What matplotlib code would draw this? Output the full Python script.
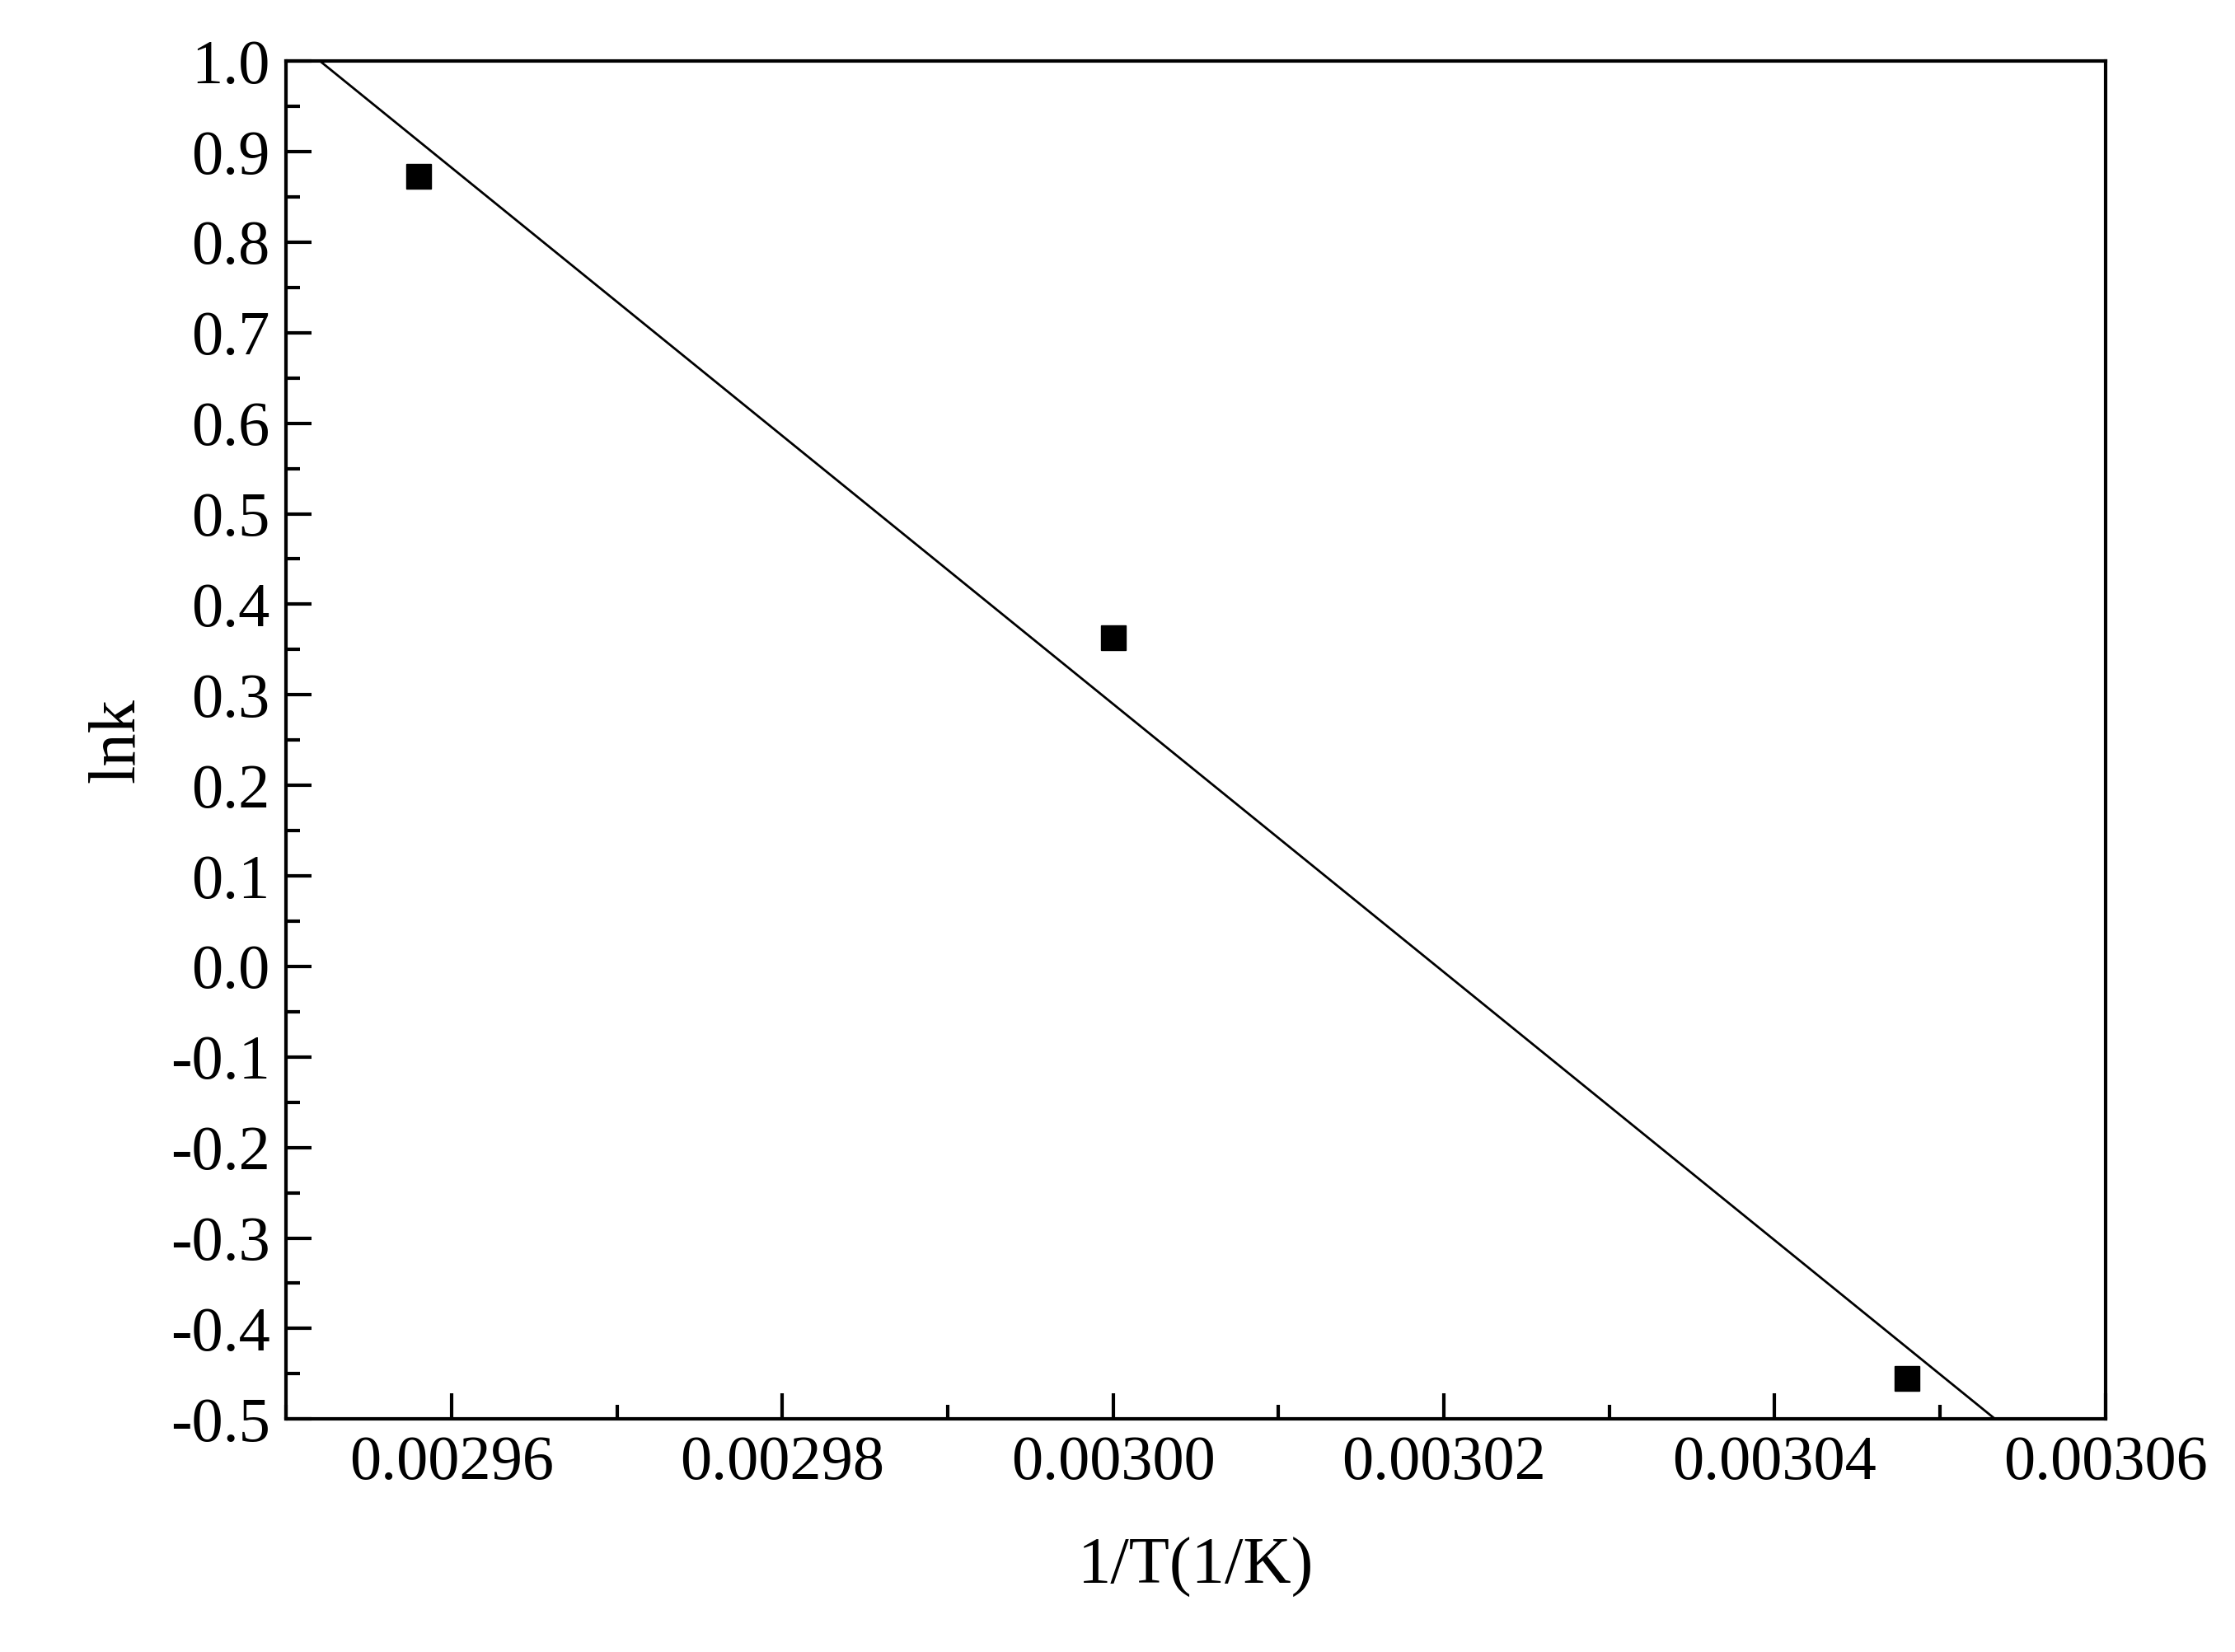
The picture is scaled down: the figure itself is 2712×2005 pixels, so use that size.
import numpy as np
import matplotlib
matplotlib.use("Agg")
import matplotlib.pyplot as plt
from matplotlib.ticker import MultipleLocator, FormatStrFormatter

inv_T = [0.002958, 0.003000, 0.003048]
lnk = [0.873, 0.363, -0.455]

plt.rcParams['font.family'] = ['Liberation Serif', 'DejaVu Serif']
fig = plt.figure(figsize=(27.12, 20.05), dpi=100)
ax = fig.add_axes([0.128, 0.141, 0.814, 0.822])

slope, icpt = np.polyfit(inv_T, lnk, 1)
xl = np.linspace(0.00295, 0.00306, 200)
ax.plot(xl, slope*xl + icpt, color='black', lw=2)
ax.plot(inv_T, lnk, 's', color='black', ms=22)

ax.set_xlim(0.00295, 0.00306)
ax.set_ylim(-0.5, 1.0)
ax.xaxis.set_major_locator(MultipleLocator(0.00002))
ax.xaxis.set_minor_locator(MultipleLocator(0.00001))
ax.yaxis.set_major_locator(MultipleLocator(0.1))
ax.yaxis.set_minor_locator(MultipleLocator(0.05))
ax.xaxis.set_major_formatter(FormatStrFormatter('%.5f'))
ax.yaxis.set_major_formatter(FormatStrFormatter('%.1f'))
ax.tick_params(which='both', direction='in', top=False, right=False, width=3, labelsize=55)
ax.tick_params(which='major', length=22, pad=14)
ax.tick_params(which='minor', length=12)
for s in ax.spines.values():
    s.set_linewidth(3)
ax.set_xlabel('1/T(1/K)', fontsize=58, labelpad=40)
ax.set_ylabel('lnk', fontsize=58, labelpad=20)
fig.savefig('out.png', dpi=100)
